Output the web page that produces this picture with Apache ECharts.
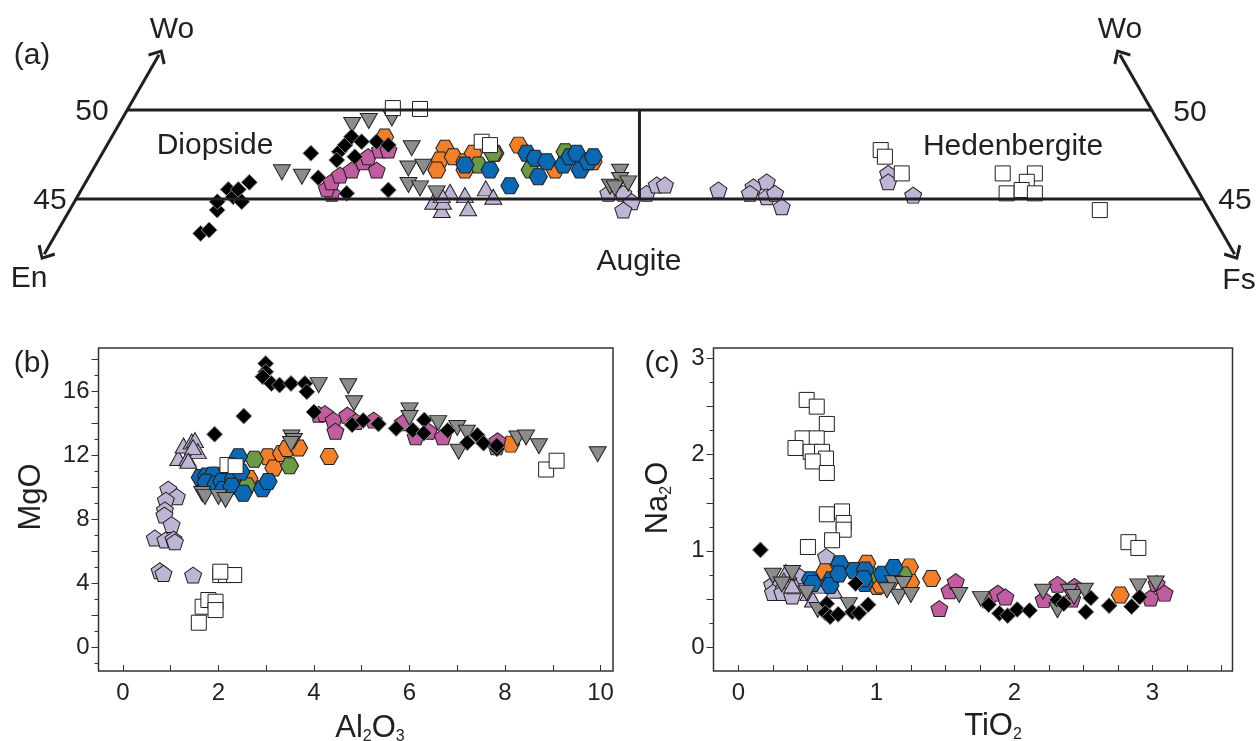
<!DOCTYPE html>
<html>
<head>
<meta charset="utf-8">
<script src="https://cdn.jsdelivr.net/npm/echarts@6/dist/echarts.min.js"></script>
<style>
  html, body { margin: 0; padding: 0; background: #fff; }
  #chart { width: 1258px; height: 741px; }
</style>
</head>
<body>
<div id="chart"></div>
<script>
// ---------- (a) pyroxene quadrilateral, points as [Fs, Wo] ----------
const aBlack = [[7.05,43.07],[7.37,43.26],[7.2,44.38],[6.97,44.85],[7.16,45.54],[7.61,45.13],[7.65,45.54],[8.16,44.85],[7.99,45.94],[10.18,47.57],[11.22,46.2],[11.52,47.66],[11.62,48.03],[11.7,48.5],[11.63,47.19],[12.42,47.38],[13.05,45.32],[13.06,48.22],[13.73,48.03],[14.99,45.51],[12.33,48.22]];
const aGray = [[9.3,46.5],[10.4,46.25],[11.4,49.16],[12.1,49.38],[13.15,49.53],[14.96,47.85],[15.36,46.72],[16.05,46.81],[15.83,45.79],[16.49,45.6],[17.44,45.32],[25.79,46.53],[26.02,46.07],[25.72,45.69],[26.51,45.88],[26.0,45.6]];
const aMagenta = [[12.32,45.32],[11.94,45.6],[11.99,45.97],[12.21,46.35],[12.64,46.63],[12.97,47.1],[13.86,46.63],[13.07,47.38],[13.46,47.75],[13.87,47.75]];
const aOrange = [[13.32,48.48],[16.58,47.85],[16.67,47.19],[16.79,46.63],[17.22,47.38],[17.93,47.1],[18.1,47.57],[18.17,46.63],[19.16,47.57],[20.08,48.03],[22.57,46.63],[24.19,47.1]];
const aGreen = [[18.68,46.91],[19.08,47.57],[21.35,46.63],[22.54,47.66]];
const aBlue = [[18.03,46.91],[19.39,46.63],[20.8,45.75],[20.71,47.57],[21.26,47.29],[21.92,47.1],[21.94,46.25],[22.83,46.91],[22.92,47.38],[23.15,47.57],[23.79,46.63],[23.95,47.1],[24.06,47.38]];
const aLavTri = [[17.51,44.85],[18.16,44.38],[18.05,45.41],[17.99,44.85],[17.74,45.22],[18.87,45.22],[19.4,44.48],[19.7,45.6],[20.3,45.13]];
const aLavPent = [[25.82,45.32],[26.55,45.32],[27.2,44.85],[27.02,44.38],[27.69,45.32],[27.95,45.79],[28.35,45.79],[31.1,45.51],[32.72,45.69],[33.23,45.97],[32.73,45.32],[33.65,45.13],[33.96,45.32],[34.66,44.57],[38.92,46.44],[39.16,45.97],[40.75,45.22]];
const aWhite = [[12.91,50.11],[14.26,50.06],[18.19,48.22],[18.69,48.03],[37.9,47.75],[38.29,47.38],[39.58,46.44],[44.51,46.44],[45.26,45.32],[46.08,46.44],[45.92,45.97],[45.9,45.51],[46.64,45.32],[50.28,44.38]];

const woLevels = [45, 50];
const arrowWo = [41.9, 53.1];

// ---------- (b) Al2O3 vs MgO ----------
const bBlack = [[2.99,17.73],[2.99,17.21],[2.93,16.9],[3.11,16.48],[3.28,16.38],[3.52,16.48],[3.81,16.48],[3.85,15.96],[2.53,14.44],[1.92,13.31],[4.0,14.7],[4.8,13.9],[5.03,14.17],[5.35,13.95],[5.72,13.67],[6.07,13.56],[6.31,14.2],[6.3,13.37],[6.8,13.54],[7.21,12.78],[7.42,13.25],[7.55,12.75],[7.83,12.4],[7.83,12.6]];
const bGray = [[4.1,16.38],[4.72,16.31],[4.84,15.25],[6.0,14.8],[6.0,14.32],[6.6,14.0],[7.0,13.7],[7.2,13.4],[7.03,12.21],[8.26,13.04],[8.44,13.1],[8.71,12.56],[9.94,12.06],[3.53,13.1],[3.58,12.88],[3.52,12.7],[1.66,9.57],[1.72,9.39],[2.0,9.39],[2.15,9.19]];
const bMagenta = [[4.1,14.55],[4.23,14.6],[4.41,14.19],[4.45,13.5],[4.7,14.5],[4.88,14.1],[5.25,14.19],[5.86,14.03],[6.13,13.15],[6.4,13.5],[6.7,13.15],[7.84,12.9],[7.82,12.52]];
const bOrange = [[1.92,10.75],[3.03,11.9],[3.16,11.2],[3.32,12.1],[3.44,12.42],[3.68,12.45],[2.64,10.54],[4.32,11.92],[8.12,12.69]];
const bGreen = [[2.75,11.74],[3.49,11.34],[2.6,10.08]];
const bBlue = [[2.42,11.9],[1.62,10.6],[1.75,10.7],[1.88,10.75],[1.74,10.3],[1.95,10.2],[2.07,10.35],[2.31,10.55],[2.47,10.95],[2.1,9.85],[2.28,10.05],[2.52,9.62],[2.92,9.9],[3.04,10.35]];
const bLavTri = [[1.16,11.82],[1.35,11.8],[1.27,12.6],[1.44,12.85],[1.51,12.94],[1.57,12.25],[1.47,12.5],[1.37,11.65]];
const bLavPent = [[0.95,9.88],[1.13,9.4],[0.9,9.19],[0.88,8.58],[0.87,8.25],[1.02,7.66],[0.67,6.82],[0.89,6.69],[1.06,6.75],[1.09,6.58],[0.77,4.77],[0.85,4.6],[1.47,4.5]];
const bWhite = [[2.19,11.38],[2.36,11.31],[8.86,11.1],[9.08,11.65],[2.04,4.5],[2.16,4.5],[2.33,4.5],[2.04,4.71],[1.59,1.52],[1.67,2.52],[1.79,2.94],[1.94,2.83],[1.94,2.31]];

// ---------- (c) TiO2 vs Na2O ----------
const cBlack = [[0.16,1.01],[0.64,0.45],[0.63,0.355],[0.665,0.315],[0.723,0.34],[0.826,0.365],[0.874,0.35],[0.94,0.44],[0.85,0.66],[1.813,0.44],[1.892,0.35],[1.951,0.325],[2.02,0.39],[2.11,0.38],[2.31,0.49],[2.357,0.45],[2.517,0.365],[2.553,0.51],[2.686,0.43],[2.849,0.42],[2.907,0.52]];
const cGray = [[0.25,0.74],[0.315,0.65],[0.39,0.77],[0.495,0.56],[0.575,0.385],[0.8,0.435],[1.122,0.662],[1.195,0.655],[1.16,0.523],[1.25,0.54],[1.077,0.59],[1.6,0.54],[1.757,0.5],[2.207,0.575],[2.312,0.382],[2.397,0.575],[2.432,0.52],[2.51,0.585],[2.898,0.63],[3.024,0.66]];
const cMagenta = [[1.456,0.4],[1.53,0.585],[1.575,0.68],[1.809,0.49],[1.88,0.56],[1.935,0.52],[2.212,0.495],[2.312,0.652],[2.418,0.5],[2.435,0.63],[2.986,0.51],[3.03,0.66],[3.088,0.56]];
const cOrange = [[0.627,0.782],[0.931,0.87],[1.005,0.63],[1.24,0.833],[1.248,0.67],[1.4,0.712],[2.767,0.54],[1.03,0.645]];
const cGreen = [[1.195,0.75],[0.955,0.75]];
const cBlue = [[0.521,0.7],[0.539,0.66],[0.673,0.7],[0.664,0.64],[0.735,0.865],[0.728,0.76],[0.838,0.795],[0.918,0.8],[0.915,0.66],[1.044,0.757],[1.127,0.826],[0.906,0.71]];
const cLavTri = [[0.344,0.78],[0.33,0.69],[0.416,0.63],[0.508,0.56],[0.541,0.493],[0.593,0.638],[0.693,0.585],[0.39,0.64]];
const cLavPent = [[0.245,0.648],[0.251,0.567],[0.318,0.567],[0.39,0.53],[0.449,0.638],[0.439,0.74],[0.635,0.94],[0.362,0.696]];
const cWhite = [[0.495,2.57],[0.568,2.5],[0.641,2.32],[0.466,2.17],[0.568,2.17],[0.414,2.07],[0.524,2.03],[0.606,2.03],[0.635,1.96],[0.539,1.93],[0.641,1.81],[0.641,1.38],[0.751,1.41],[0.763,1.29],[0.763,1.22],[0.679,1.11],[0.504,1.04],[2.826,1.09],[2.898,1.03]];

// tick values
const bXLabels = [0, 2, 4, 6, 8, 10];
const bXTicks = [0, 1, 2, 3, 4, 5, 6, 7, 8, 9, 10];
const bYLabels = [0, 4, 8, 12, 16];
const bYTicksLong = [0, 2, 4, 6, 8, 10, 12, 14, 16, 18];
const bYTicksShort = [-1, 1, 3, 5, 7, 9, 11, 13, 15, 17];
const cXLabels = [0, 1, 2, 3];
const cXTicks = [0, 0.25, 0.5, 0.75, 1, 1.25, 1.5, 1.75, 2, 2.25, 2.5, 2.75, 3, 3.25, 3.5];
const cYLabels = [0, 1, 2, 3];
const cYTicksLong = [0, 0.5, 1, 1.5, 2, 2.5, 3];
const cYTicksShort = [0.25, 0.75, 1.25, 1.75, 2.25, 2.75];

const FONT = 'Liberation Sans, Arial, sans-serif';
const INK = '#231f20';

const hex = 'path://M-1,0L-0.5,-0.866L0.5,-0.866L1,0L0.5,0.866L-0.5,0.866Z';
const pent = 'path://M0,-1L0.951,-0.309L0.588,0.809L-0.588,0.809L-0.951,-0.309Z';
const down = 'path://M-1,-0.85L1,-0.85L0,0.9Z';
const chevron = 'path://M0,0L10,9L8,11L0,3.6L-8,11L-10,9Z';

// draw order: bottom to top
const kinds = [
  { symbol: pent, size: [17, 16], color: '#bdb5d3', border: INK, data: [aLavPent, bLavPent, cLavPent] },
  { symbol: 'triangle', size: [17, 15], color: '#bdb5d3', border: INK, data: [aLavTri, bLavTri, cLavTri] },
  { symbol: hex, size: [18, 16], color: '#f27f29', border: INK, data: [aOrange, bOrange, cOrange] },
  { symbol: hex, size: [18, 16], color: '#6a9a46', border: INK, data: [aGreen, bGreen, cGreen] },
  { symbol: hex, size: [18, 16], color: '#0b69b3', border: INK, data: [aBlue, bBlue, cBlue] },
  { symbol: pent, size: [17, 16], color: '#c05c9f', border: INK, data: [aMagenta, bMagenta, cMagenta] },
  { symbol: down, size: [17, 15], color: '#8c8c8c', border: INK, data: [aGray, bGray, cGray] },
  { symbol: 'diamond', size: [16, 16], color: '#000', border: '#8a8a8a', data: [aBlack, bBlack, cBlack] },
  { symbol: 'rect', size: [15, 15], color: '#fff', border: INK, data: [aWhite, bWhite, cWhite] }
];

// ternary projection for (a): x = Fs + Wo/2
function toTern(p) { return [p[0] + p[1] / 2, p[1]]; }

const series = [];

// quadrilateral frame
woLevels.forEach(function (wo) {
  series.push({
    type: 'line', xAxisIndex: 0, yAxisIndex: 0, symbol: 'none', silent: true,
    lineStyle: { color: INK, width: 3 },
    data: [[wo / 2, wo], [100 - wo / 2, wo]]
  });
});
series.push({
  type: 'line', xAxisIndex: 0, yAxisIndex: 0, symbol: 'none', silent: true,
  lineStyle: { color: INK, width: 3 },
  data: [toTern([(100 - woLevels[0]) / 2, woLevels[0]]), toTern([(100 - woLevels[1]) / 2, woLevels[1]])]
});
series.push({
  type: 'scatter', xAxisIndex: 0, yAxisIndex: 0, data: [], silent: true,
  markLine: {
    silent: true, animation: false,
    symbol: [chevron, chevron], symbolSize: [20, 13],
    label: { show: false },
    lineStyle: { color: INK, width: 3, type: 'solid' },
    data: [
      [{ coord: [arrowWo[0] / 2, arrowWo[0]] }, { coord: [arrowWo[1] / 2, arrowWo[1]] }],
      [{ coord: [100 - arrowWo[0] / 2, arrowWo[0]] }, { coord: [100 - arrowWo[1] / 2, arrowWo[1]] }]
    ]
  }
});

kinds.forEach(function (k) {
  for (let p = 0; p < 3; p++) {
    series.push({
      type: 'scatter',
      xAxisIndex: p, yAxisIndex: p,
      symbol: k.symbol, symbolSize: k.size,
      itemStyle: { color: k.color, borderColor: k.border, borderWidth: 1, opacity: 1 },
      data: p === 0 ? k.data[0].map(toTern) : k.data[p]
    });
  }
});

const tickLbl = { fontSize: 24, color: INK, fontFamily: FONT };
const noLine = { show: false, onZero: false };
const tickStyle = { color: '#333', width: 1 };

const chart = echarts.init(document.getElementById('chart'), null, { renderer: 'canvas' });
chart.setOption({
  animation: false,
  backgroundColor: '#fff',
  grid: [
    { left: 0, top: 0, width: 1258, height: 300, show: false },
    { left: 98.5, top: 348, width: 514.5, height: 323, show: true, borderColor: '#333', borderWidth: 1.5 },
    { left: 713.5, top: 348, width: 519, height: 323, show: true, borderColor: '#333', borderWidth: 1.5 }
  ],
  xAxis: [
    { gridIndex: 0, type: 'value', min: 18.79, max: 80.19, show: false },
    {
      gridIndex: 1, type: 'value', position: 'bottom', min: -0.51, max: 10.26,
      axisLine: noLine, splitLine: { show: false },
      axisTick: { show: true, inside: true, length: 6, customValues: bXTicks, lineStyle: tickStyle },
      axisLabel: Object.assign({ customValues: bXLabels, margin: 10 }, tickLbl)
    },
    {
      gridIndex: 2, type: 'value', position: 'bottom', min: -0.18, max: 3.58,
      axisLine: noLine, splitLine: { show: false },
      axisTick: { show: true, inside: true, length: 6, customValues: cXTicks, lineStyle: tickStyle },
      axisLabel: Object.assign({ customValues: cXLabels, margin: 10 }, tickLbl)
    }
  ],
  yAxis: [
    { gridIndex: 0, type: 'value', min: 39.33, max: 56.18, show: false },
    {
      gridIndex: 1, type: 'value', position: 'left', min: -1.5, max: 18.7,
      axisLine: noLine, splitLine: { show: false },
      axisTick: { show: true, length: 7, customValues: bYTicksLong, lineStyle: tickStyle },
      axisLabel: Object.assign({ customValues: bYLabels, margin: 9 }, tickLbl)
    },
    {
      gridIndex: 2, type: 'value', position: 'left', min: -0.25, max: 3.11,
      axisLine: noLine, splitLine: { show: false },
      axisTick: { show: true, length: 7, customValues: cYTicksLong, lineStyle: tickStyle },
      axisLabel: Object.assign({ customValues: cYLabels, margin: 9 }, tickLbl)
    },
    {
      gridIndex: 1, type: 'value', position: 'left', offset: 0, min: -1.5, max: 18.7,
      axisLine: noLine, splitLine: { show: false }, axisLabel: { show: false },
      axisTick: { show: true, length: 4, customValues: bYTicksShort, lineStyle: tickStyle }
    },
    {
      gridIndex: 2, type: 'value', position: 'left', offset: 0, min: -0.25, max: 3.11,
      axisLine: noLine, splitLine: { show: false }, axisLabel: { show: false },
      axisTick: { show: true, length: 4, customValues: cYTicksShort, lineStyle: tickStyle }
    }
  ],
  series: series,
  graphic: (function () {
    const labels = [
      ['(a)', 32, 56], ['Wo', 172, 30], ['50', 92, 112], ['45', 50, 201], ['En', 29, 279],
      ['Diopside', 215, 146], ['Hedenbergite', 1013, 147], ['Augite', 639, 262],
      ['Wo', 1120, 30], ['50', 1190, 113], ['45', 1235, 201], ['Fs', 1239, 281],
      ['(b)', 32, 364], ['(c)', 662, 364]
    ];
    const els = labels.map(function (l) {
      return {
        type: 'text', silent: true,
        style: { text: l[0], x: l[1], y: l[2], align: 'center', verticalAlign: 'middle', fill: INK, font: '30px ' + FONT }
      };
    });
    const rich = {
      n: { fontSize: 31, fontFamily: FONT, fill: INK, lineHeight: 34 },
      s: { fontSize: 16, fontFamily: FONT, fill: INK, lineHeight: 10, verticalAlign: 'bottom' }
    };
    const names = [
      ['{n|Al}{s|2}{n|O}{s|3}', 370, 728, 0],
      ['{n|TiO}{s|2}', 993, 726, 0],
      ['{n|MgO}', 31, 497, Math.PI / 2],
      ['{n|Na}{s|2}{n|O}', 658, 498, Math.PI / 2]
    ];
    names.forEach(function (nm) {
      els.push({
        type: 'text', silent: true, x: nm[1], y: nm[2], rotation: nm[3],
        style: { text: nm[0], rich: rich, align: 'center', verticalAlign: 'middle', fill: INK, font: '31px ' + FONT }
      });
    });
    return els;
  })()
});
</script>
</body>
</html>
